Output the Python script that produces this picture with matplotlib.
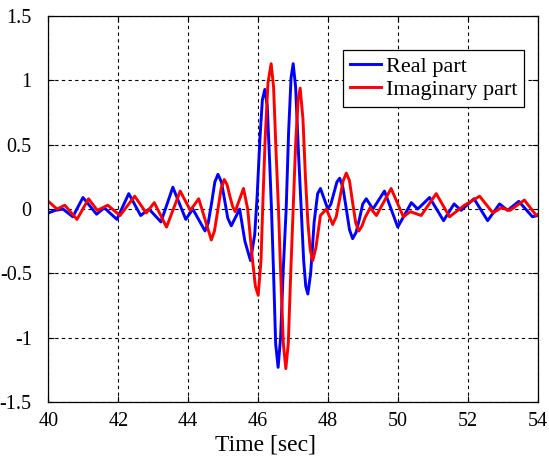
import numpy as np
import matplotlib
matplotlib.use("Agg")
import matplotlib.pyplot as plt

# real part (time [sec], value)
t_real = [40.0, 40.2, 40.42, 40.7, 40.99, 41.38, 41.6, 41.96, 42.3, 42.64,
          42.88, 43.22, 43.56, 43.93, 44.13, 44.48, 44.57, 44.67, 44.76, 44.85,
          44.95, 45.04, 45.13, 45.23, 45.47, 45.62,
          45.78, 45.9, 45.97, 46.05, 46.12, 46.19, 46.26, 46.33, 46.38, 46.44,
          46.5, 46.57, 46.64, 46.72, 46.8, 46.87, 46.94, 47.0, 47.07, 47.15,
          47.23, 47.3, 47.36, 47.42, 47.5, 47.6, 47.7, 47.78, 47.99, 48.08,
          48.16, 48.25, 48.33, 48.42, 48.52, 48.61, 48.7, 48.8, 48.9, 48.99,
          49.09, 49.28, 49.61, 49.99, 50.38, 50.56, 50.9, 51.3, 51.6,
          51.8, 52.17, 52.56, 52.9, 53.13, 53.45, 53.84, 54.0]
y_real = [-0.03, -0.01, 0.0, -0.06, 0.09, -0.04, 0.01, -0.08, 0.12, -0.05,
          0.0, -0.10, 0.17, -0.08, 0.0, -0.17, -0.11, 0.05, 0.21, 0.27,
          0.21, 0.07, -0.07, -0.13, 0.0, -0.25,
          -0.40, -0.2, 0.1, 0.55, 0.85, 0.93, 0.8, 0.35, 0.0, -0.5,
          -1.05, -1.23, -1.0, -0.45, 0.0, 0.6, 1.02, 1.13, 0.95, 0.45,
          0.0, -0.4, -0.6, -0.66, -0.5, -0.1, 0.12, 0.16, 0.0, 0.04,
          0.12, 0.21, 0.24, 0.17, 0.0, -0.16, -0.23, -0.18, -0.07, 0.04,
          0.08, 0.0, 0.14, -0.14, 0.05, 0.0, 0.09, -0.09, 0.04,
          -0.01, 0.08, -0.09, 0.04, -0.01, 0.06, -0.06, -0.05]

# imaginary part
t_imag = [40.0, 40.25, 40.47, 40.82, 41.15, 41.4, 41.7, 42.05, 42.47, 42.8,
          43.03, 43.38, 43.77, 44.06, 44.3, 44.66, 44.75, 44.85, 44.94, 45.03,
          45.11, 45.19, 45.27, 45.34, 45.58, 45.7,
          45.82, 45.92, 46.0, 46.08, 46.14, 46.2, 46.28, 46.37, 46.44, 46.51,
          46.58, 46.65, 46.72, 46.79, 46.86, 46.93, 47.0, 47.07, 47.14, 47.2,
          47.28, 47.35, 47.42, 47.49, 47.56, 47.65, 47.78, 47.95, 48.13, 48.23,
          48.33, 48.43, 48.52, 48.61, 48.7, 48.79, 48.88, 48.97, 49.05,
          49.2, 49.38, 49.8, 50.15, 50.35, 50.66, 51.09, 51.47, 51.9,
          52.33, 52.71, 52.95, 53.2, 53.61, 53.95, 54.0]
y_imag = [0.06, 0.0, 0.03, -0.08, 0.08, -0.01, 0.03, -0.05, 0.10, -0.03,
          0.05, -0.14, 0.14, -0.01, 0.08, -0.24, -0.17, 0.0, 0.16, 0.23,
          0.19, 0.1, 0.02, -0.02, 0.16, 0.0,
          -0.35, -0.6, -0.67, -0.4, 0.1, 0.55, 0.98, 1.13, 0.95, 0.45,
          0.0, -0.55, -1.05, -1.24, -1.05, -0.5, 0.0, 0.5, 0.85, 0.94,
          0.7, 0.25, -0.1, -0.32, -0.40, -0.3, -0.05, 0.0, -0.12, -0.06,
          0.08, 0.22, 0.28, 0.22, 0.05, -0.11, -0.17, -0.13, -0.07,
          0.01, -0.05, 0.16, -0.06, -0.02, -0.05, 0.12, -0.06, 0.03,
          0.10, -0.03, 0.01, -0.01, 0.07, -0.05, -0.04]

x_ticks = [40, 42, 44, 46, 48, 50, 52, 54]
y_ticks = [-1.5, -1, -0.5, 0, 0.5, 1, 1.5]
y_ticklabels = ["-1.5", "-1", "-0.5", "0", "0.5", "1", "1.5"]

plt.rcParams['font.family'] = ['Liberation Serif', 'DejaVu Serif']

fig = plt.figure(figsize=(5.49, 4.59), dpi=100)
ax = fig.add_axes([0.088, 0.124, 0.892, 0.841])

ax.plot(t_real, y_real, color=(0, 0, 1), lw=2.1, label="Real part",
        solid_joinstyle='round')
ax.plot(t_imag, y_imag, color=(1, 0, 0), lw=2.1, label="Imaginary part",
        solid_joinstyle='round')

ax.set_xlim(40, 54)
ax.set_ylim(-1.5, 1.5)
ax.set_xticks(x_ticks)
ax.set_yticks(y_ticks)
ax.set_yticklabels(y_ticklabels)
ax.tick_params(direction='in', top=True, right=True, length=4,
               labelsize=14.5)
ax.tick_params(axis='x', pad=7)
ax.tick_params(axis='y', pad=12)
ax.grid(True, color='black', linestyle=(0, (3, 3)), linewidth=0.8)
for s in ax.spines.values():
    s.set_linewidth(0.9)
ax.set_xlabel("Time [sec]", fontsize=17, labelpad=0)
ax.xaxis.set_label_coords(0.444, -0.085)

leg = ax.legend(loc='upper right', bbox_to_anchor=(0.971, 0.912),
                fontsize=16, frameon=True, fancybox=False, framealpha=1,
                edgecolor='black', handlelength=1.4, handletextpad=0.2,
                borderpad=0.3, labelspacing=0.1, borderaxespad=0)
leg.get_frame().set_linewidth(0.9)

fig.savefig("out.png", dpi=100)
